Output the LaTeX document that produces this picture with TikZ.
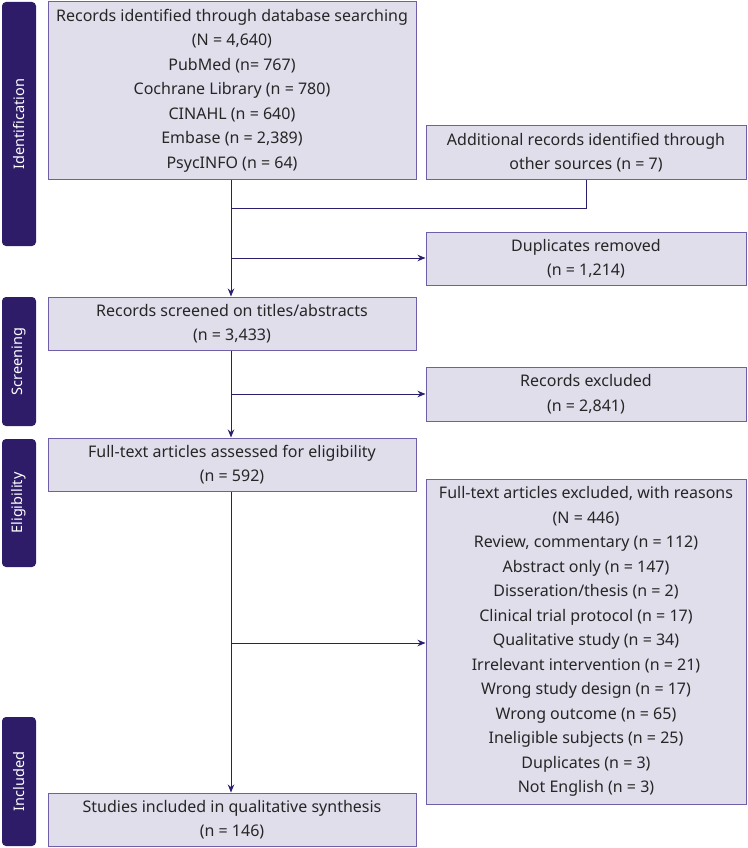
\documentclass[tikz,border=0pt]{standalone}
\usepackage{fontspec}
\setmainfont{Noto Sans}
\usetikzlibrary{arrows.meta}
\definecolor{barcol}{HTML}{2E1C69}
\definecolor{boxfill}{HTML}{E1DEEC}
\definecolor{boxline}{HTML}{6E5FA8}
\definecolor{linecol}{HTML}{2A1E6E}
\begin{document}
\begin{tikzpicture}[x=1pt,y=-1pt,
  box/.style={draw=boxline, fill=boxfill, line width=1pt, align=center, inner sep=0pt,
    font=\fontsize{16}{24.5}\selectfont, text=black!85},
  phase/.style={fill=barcol, rounded corners=4pt, minimum width=34pt, inner sep=0pt,
    text=white, rotate=90, font=\fontsize{14.5}{18}\selectfont},
  conn/.style={draw=linecol, line width=1pt},
  arr/.style={conn, -{Stealth[length=8pt,width=6.5pt]}}]
\useasboundingbox (0,0) rectangle (747,848);
% phase bars
\node[phase, minimum width=244pt, minimum height=34pt] (p1) at (19,124) {Identification};
\node[phase, minimum width=129pt, minimum height=34pt] (p2) at (19,361.5) {Screening};
\node[phase, minimum width=128pt, minimum height=34pt] (p3) at (19,503) {Eligibility};
\node[phase, minimum width=129pt, minimum height=34pt] (p4) at (19,781.5) {Included};
% boxes
\node[box, minimum width=368pt, minimum height=177pt] (b1) at (232,90.5)
 {Records identified through database searching\\(N = 4,640)\\PubMed (n= 767)\\Cochrane Library (n = 780)\\CINAHL (n = 640)\\Embase (n = 2,389)\\PsycINFO (n = 64)};
\node[box, minimum width=320pt, minimum height=53pt] (b2) at (586,152.5)
 {Additional records identified through\\other sources (n = 7)};
\node[box, minimum width=320pt, minimum height=53pt] (b3) at (586,258.5)
 {Duplicates removed\\(n = 1,214)};
\node[box, minimum width=368pt, minimum height=53pt] (b4) at (232,323.5)
 {Records screened on titles/abstracts\\(n = 3,433)};
\node[box, minimum width=320pt, minimum height=54pt] (b5) at (586,394)
 {Records excluded\\(n = 2,841)};
\node[box, minimum width=368pt, minimum height=53pt] (b6) at (232,464.5)
 {Full-text articles assessed for eligibility\\(n = 592)};
\node[box, minimum width=320pt, minimum height=325pt] (b7) at (586,641.5)
 {Full-text articles excluded, with reasons\\(N = 446)\\Review, commentary (n = 112)\\Abstract only (n = 147)\\Disseration/thesis (n = 2)\\Clinical trial protocol (n = 17)\\Qualitative study (n = 34)\\Irrelevant intervention (n = 21)\\Wrong study design (n = 17)\\Wrong outcome (n = 65)\\Ineligible subjects (n = 25)\\Duplicates (n = 3)\\Not English (n = 3)};
\node[box, minimum width=368pt, minimum height=53pt] (b8) at (232,819.5)
 {Studies included in qualitative synthesis\\(n = 146)};
% junction coordinates
\coordinate (j1) at (231,208);
\coordinate (j2) at (231,258);
\coordinate (j3) at (231,394);
\coordinate (j4) at (231,643);
% connectors
\draw[arr] (b1.south -| j1) -- (b4.north -| j1);
\draw[conn] (b2.south) |- (j1);
\draw[arr] (j2) -- (j2 -| b3.west);
\draw[arr] (b4.south -| j3) -- (b6.north -| j3);
\draw[arr] (j3) -- (j3 -| b5.west);
\draw[arr] (b6.south -| j4) -- (b8.north -| j4);
\draw[arr] (j4) -- (j4 -| b7.west);
\end{tikzpicture}
\end{document}
